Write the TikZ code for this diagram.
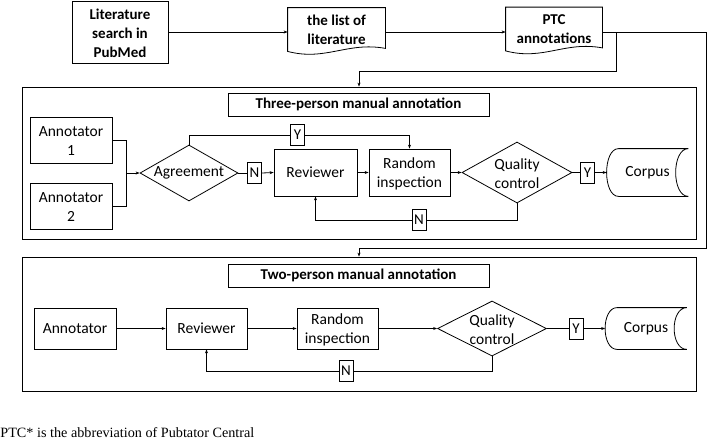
\documentclass[tikz,border=0pt]{standalone}
\usepackage{fontspec}
\setmainfont{Carlito}
\newfontfamily\tnr{Liberation Serif}
\usetikzlibrary{shapes.geometric,arrows.meta,calc}
\newcommand{\drawdoc}[1]{\draw (#1.north west) -- ([yshift=-4pt]#1.south west) .. controls ([xshift=38pt,yshift=-14pt]#1.south west) and ([xshift=-38pt,yshift=6pt]#1.south east) .. ([yshift=-1pt]#1.south east) -- (#1.north east) -- cycle;}
\newcommand{\drawcorpus}[1]{\draw ([xshift=12pt]#1.north west) -- (#1.north east) .. controls ([xshift=-17pt]#1.north east) and ([xshift=-17pt]#1.south east) .. (#1.south east) -- ([xshift=12pt]#1.south west) .. controls ([xshift=-4pt]#1.south west) and ([xshift=-4pt]#1.north west) .. ([xshift=12pt]#1.north west);}
\newcommand{\lowa}{\rule{0pt}{12.5pt}}
\newcommand{\lowb}{\rule{0pt}{14.5pt}}
\begin{document}
\begin{tikzpicture}[x=1pt,y=-1pt,line width=0.8pt,
  every node/.style={font=\fontsize{15.5}{19}\selectfont,inner sep=0pt,align=center},
  box/.style={draw,rectangle},
  yn/.style={draw,rectangle,minimum width=14pt,minimum height=21pt,font=\fontsize{15}{18}\selectfont},
  dia/.style={draw,diamond},
  bt/.style={font=\fontsize{15}{19}\selectfont\bfseries},
  arr/.style={-{Stealth[length=4pt,width=3pt]}}]
\useasboundingbox (0,0) rectangle (708,440);

% top row
\node[box,bt,minimum width=96pt,minimum height=62pt] (lit) at (120,32) {\lowa Literature\\search in\\PubMed};
\node[bt,minimum width=97pt,minimum height=39pt] (list) at (336.5,27.5) {\lowb the list of\\literature};
\node[bt,minimum width=96pt,minimum height=39pt] (ptc) at (554,27) {\lowb PTC\\annotations};
\drawdoc{list}
\drawdoc{ptc}

% frames
\node[box,minimum width=674pt,minimum height=152pt] (f1) at (359,163) {};
\node[box,minimum width=674pt,minimum height=134pt] (f2) at (359,324) {};
\node[box,bt,minimum width=261pt,minimum height=23pt] (t1) at (358.5,104.5) {Three-person manual annotation};
\node[box,bt,minimum width=261pt,minimum height=23pt] (t2) at (358.5,275.5) {Two-person manual annotation};

% frame 1
\node[box,minimum width=82pt,minimum height=46pt] (a1) at (71,140) {\lowa Annotator\\1};
\node[box,minimum width=82pt,minimum height=46pt] (a2) at (71,206) {\lowa Annotator\\2};
\node[dia,minimum width=98pt,minimum height=56pt,label=center:Agreement] (ag) at (189,173) {};
\node[yn] (n1) at (254.5,173) {N};
\node[box,minimum width=83pt,minimum height=47pt] (rv1) at (315.5,172.5) {Reviewer};
\node[box,minimum width=81pt,minimum height=47pt] (ri1) at (409.5,172.5) {\lowa Random\\inspection};
\node[dia,minimum width=110pt,minimum height=61pt,label={center:\lowa Quality\\control}] (qc1) at (517,172.5) {};
\node[yn] (y2) at (587.5,172.5) {Y};
\node[minimum width=81pt,minimum height=47pt] (c1) at (647.5,172.5) {Corpus};
\drawcorpus{c1}
\node[yn] (y1) at (297.5,135) {Y};
\node[yn] (n2) at (419,220) {N};

% frame 2
\node[box,minimum width=82pt,minimum height=41pt] (ann) at (75,328.5) {Annotator};
\node[box,minimum width=81pt,minimum height=41pt] (rv2) at (206.5,328.5) {Reviewer};
\node[box,minimum width=81pt,minimum height=41pt] (ri2) at (337.5,328.5) {\lowa Random\\inspection};
\node[dia,minimum width=109pt,minimum height=55pt,label={center:\lowa Quality\\control}] (qc2) at (492,328.5) {};
\node[yn] (y3) at (576,328.5) {Y};
\node[minimum width=81pt,minimum height=41pt] (c2) at (646,328.5) {Corpus};
\drawcorpus{c2}
\node[yn] (n3) at (346,371) {N};

% footnote
\node[anchor=base west,font=\tnr\fontsize{14.2}{17}\selectfont] (fn) at (0,437) {PTC* is the abbreviation of Pubtator Central};

% top connectors
\coordinate (j1) at (616,32);
\coordinate (j2) at (616,71);
\coordinate (r1) at (706,248);
\draw[arr] (lit.east) -- (lit.east -| list.west);
\draw[arr] (lit.east -| list.east) -- (lit.east -| ptc.west);
\draw[arr] (lit.east -| ptc.east) -| (r1) -| (f2.north);
\draw[arr] (j1) -- (j2) -| (f1.north);

% frame 1 connectors
\coordinate (m1) at (126,173);
\draw (a1.east) -| (m1);
\draw (a2.east) -| (m1);
\draw[arr] (m1) -- (ag.west);
\draw (ag.east) -- (n1.west);
\draw[arr] (n1.east) -- (rv1.west);
\draw (ag.north) |- (y1.west);
\draw[arr] (y1.east) -| (ri1.north);
\draw[arr] (rv1.east) -- (ri1.west);
\draw[arr] (ri1.east) -- (qc1.west);
\draw (qc1.east) -- (y2.west);
\draw[arr] (y2.east) -- (c1.west);
\draw (qc1.south) |- (n2.east);
\draw[arr] (n2.west) -| (rv1.south);

% frame 2 connectors
\draw[arr] (ann.east) -- (rv2.west);
\draw[arr] (rv2.east) -- (ri2.west);
\draw[arr] (ri2.east) -- (qc2.west);
\draw (qc2.east) -- (y3.west);
\draw[arr] (y3.east) -- (c2.west);
\draw (qc2.south) |- (n3.east);
\draw[arr] (n3.west) -| (rv2.south);
\end{tikzpicture}
\end{document}
